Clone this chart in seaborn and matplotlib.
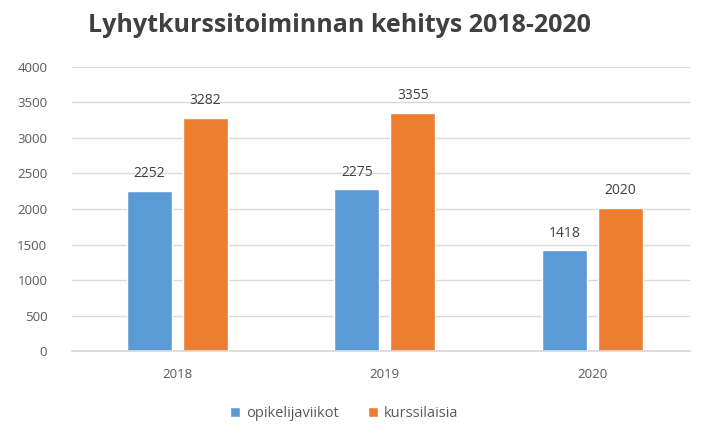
"""Lyhytkurssitoiminnan kehitys 2018-2020"""

import matplotlib
matplotlib.use("Agg")
import matplotlib.pyplot as plt
import pandas as pd
import seaborn as sns

years = ["2018", "2019", "2020"]
opiskelijaviikot = [2252, 2275, 1418]
kurssilaisia = [3282, 3355, 2020]
series_names = ["opikelijaviikot", "kurssilaisia"]
colors = ["#5B9BD5", "#ED7D31"]

sns.set_theme(style="white")
plt.rcParams['font.family'] = ["Open Sans", "DejaVu Sans"]

rows = []
for year, a, b in zip(years, opiskelijaviikot, kurssilaisia):
    rows.append((year, series_names[0], a))
    rows.append((year, series_names[1], b))
df = pd.DataFrame(rows, columns=["year", "series", "value"])

fig = plt.figure(figsize=(7.02, 4.40), dpi=100)
ax = fig.add_axes([0.103, 0.202, 0.880, 0.646])

sns.barplot(data=df, x="year", y="value", hue="series", palette=colors,
            width=0.54, gap=0.2, saturation=1, ax=ax, legend=True)

for cont in ax.containers:
    ax.bar_label(cont, fmt="%d", padding=7, fontsize=10, color="#404040")

ax.set_ylim(0, 4000)
ax.set_xlim(-0.505, 2.47)
ax.set_yticks(range(0, 4001, 500))
ax.yaxis.grid(True, color="#d9d9d9", linewidth=1)
ax.set_axisbelow(True)
for side in ["top", "right", "left"]:
    ax.spines[side].set_visible(False)
ax.spines["bottom"].set_color("#d9d9d9")
ax.tick_params(axis="both", colors="#595959", labelsize=9.5, length=0)
ax.tick_params(axis="y", pad=18)
ax.tick_params(axis="x", pad=12)
ax.set_xlabel("")
ax.set_ylabel("")

ax.legend(loc="center", bbox_to_anchor=(0.44, -0.22), ncol=2, frameon=False,
          fontsize=10.5, handlelength=0.7, handleheight=0.7, handletextpad=0.4,
          columnspacing=2.0, labelcolor="#595959")

fig.text(0.484, 0.943, "Lyhytkurssitoiminnan kehitys 2018-2020", ha="center", va="center",
         fontsize=18, fontweight="bold", color="#404040")

fig.savefig("out.png", dpi=100, facecolor="white")
